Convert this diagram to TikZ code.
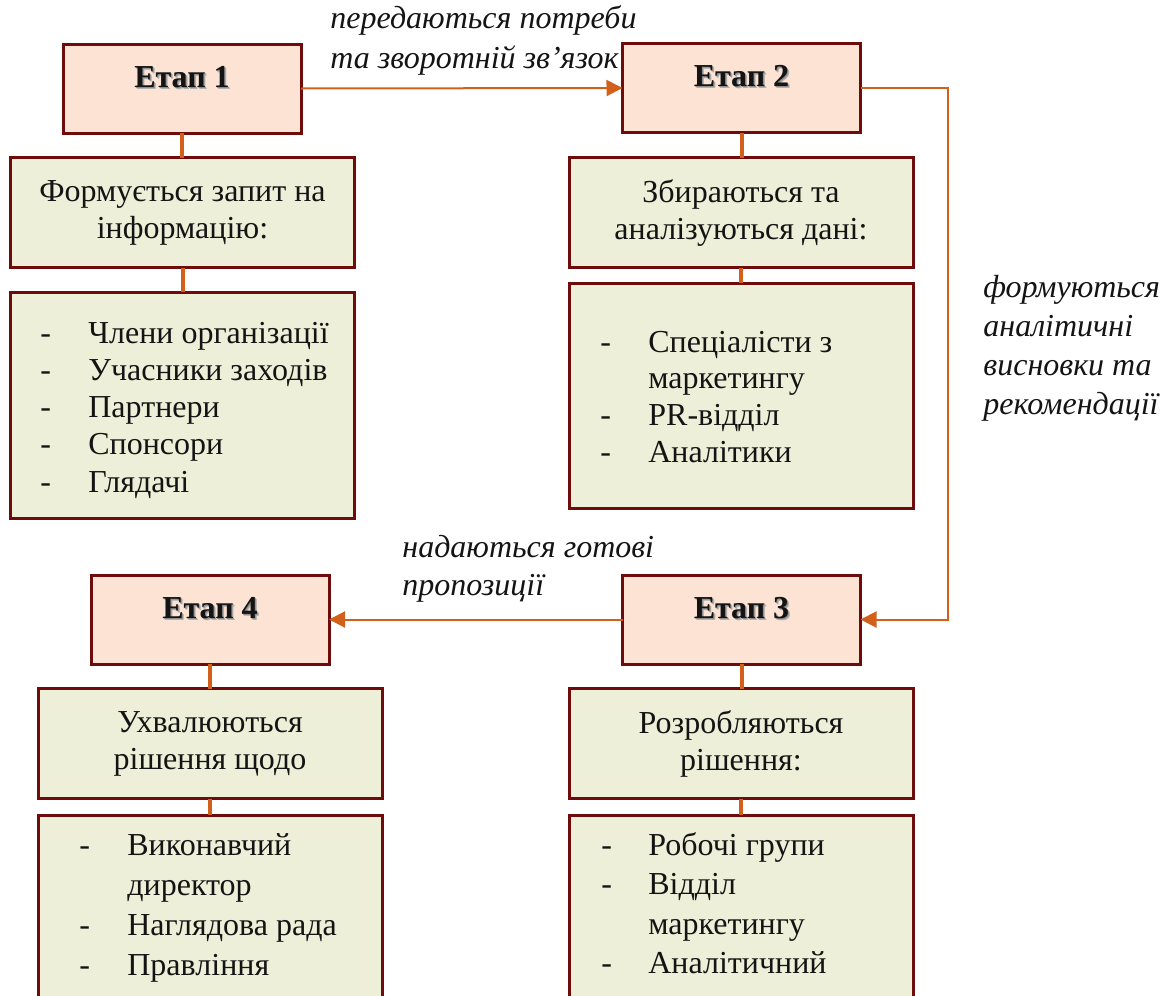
\documentclass[tikz,border=0pt]{standalone}
\usepackage{fontspec}
\setmainfont{Liberation Serif}
\usetikzlibrary{arrows.meta}
\definecolor{brd}{HTML}{6E0C0C}
\definecolor{pinkf}{HTML}{FDE3D4}
\definecolor{greenf}{HTML}{EEEFD8}
\definecolor{orng}{HTML}{D2601A}
\definecolor{txt}{HTML}{141414}
\newcommand\shtxt[1]{\makebox[0pt][l]{\hspace{1pt}\raisebox{-1pt}{\color{black!30}#1}}\makebox[0pt][l]{\hspace{0.5pt}\raisebox{-0.5pt}{\color{black!45}#1}}#1}
\tikzset{
  etap/.style={draw=brd, fill=pinkf, line width=1.5pt, minimum width=119pt, minimum height=44.5pt,
     inner sep=0pt, outer sep=0pt, text height=11pt, text depth=12.5pt,
     font=\fontsize{16}{19}\selectfont\bfseries, text=txt},
  midbox/.style={draw=brd, fill=greenf, line width=1.5pt, minimum width=172pt, minimum height=55pt,
     inner sep=0pt, outer sep=0pt, align=center, font=\fontsize{16}{18.5}\selectfont, text=txt},
  listbox/.style={draw=brd, fill=greenf, line width=1.5pt, minimum width=172pt,
     inner sep=0pt, outer sep=0pt},
  listtext/.style={anchor=base west, inner sep=0pt, text=txt},
  lbl/.style={anchor=base west, inner sep=0pt, text=txt},
  conn/.style={draw=orng, line width=1pt, -{Triangle[length=8pt,width=8pt]}},
  stub/.style={draw=orng, line width=2pt}
}
\begin{document}
\begin{tikzpicture}[x=0.5pt, y=-0.5pt]
\clip (0,0) rectangle (1169,996);
\fill[white] (0,0) rectangle (1169,996);

% Stage boxes
\node[etap] (e1) at (182,88.5) {\shtxt{Етап 1}};
\node[etap] (e2) at (741.5,88) {\shtxt{Етап 2}};
\node[etap] (e3) at (741.5,619.5) {\shtxt{Етап 3}};
\node[etap] (e4) at (210,619.5) {\shtxt{Етап 4}};

% Middle boxes
\node[midbox] (m1) at (182.5,212.5) {Формується запит на\\інформацію:};
\node[midbox] (m2) at (741,212.5) {Збираються та\\аналізуються дані:};
\node[midbox] (m3) at (741,743.5) {Розробляються\\рішення:};
\node[midbox] (m4) at (210,743.5) {Ухвалюються\\рішення щодо};

% List boxes
\node[listbox, minimum height=113pt] (l1) at (182,405) {};
\node[listbox, minimum height=112.5pt] (l2) at (741,395.5) {};
\node[listbox, minimum height=142.5pt] (l3) at (741,957.5) {};
\node[listbox, minimum height=142.5pt] (l4) at (210,957.5) {};

\node[listtext, font=\fontsize{16}{18.65}\selectfont] (t1) at (40,343) {%
\begin{tabular}[t]{@{}p{24pt}@{}l@{}}
-&Члени організації\\
-&Учасники заходів\\
-&Партнери\\
-&Спонсори\\
-&Глядачі
\end{tabular}};
\node[listtext, font=\fontsize{16}{18.35}\selectfont] (t2) at (600,352) {%
\begin{tabular}[t]{@{}p{24pt}@{}l@{}}
-&Спеціалісти з\\
&маркетингу\\
-&PR-відділ\\
-&Аналітики
\end{tabular}};
\node[listtext, font=\fontsize{16}{19.75}\selectfont] (t3) at (601,855) {%
\begin{tabular}[t]{@{}p{23.5pt}@{}l@{}}
-&Робочі групи\\
-&Відділ\\
&маркетингу\\
-&Аналітичний
\end{tabular}};
\node[listtext, font=\fontsize{16}{20}\selectfont] (t4) at (79,855) {%
\begin{tabular}[t]{@{}p{24pt}@{}l@{}}
-&Виконавчий\\
&директор\\
-&Наглядова рада\\
-&Правління
\end{tabular}};

% Stubs
\draw[stub] (e1.south) -- (e1.south |- m1.north);
\draw[stub] (m1.south) -- (m1.south |- l1.north);
\draw[stub] (e2.south) -- (e2.south |- m2.north);
\draw[stub] (m2.south) -- (m2.south |- l2.north);
\draw[stub] (e3.south) -- (e3.south |- m3.north);
\draw[stub] (m3.south) -- (m3.south |- l3.north);
\draw[stub] (e4.south) -- (e4.south |- m4.north);
\draw[stub] (m4.south) -- (m4.south |- l4.north);

% Connectors
\coordinate (r1) at (948,88);
\draw[conn] (e1.east) -- (e2.west);
\draw[conn] (e2.east) -- (r1) |- (e3.east);
\draw[conn] (e3.west) -- (e4.east);

% Labels
\node[lbl, font=\fontsize{16}{20}\selectfont\itshape] (a1) at (330,28) {%
\begin{tabular}[t]{@{}l@{}}передаються потреби\\та зворотній зв’язок\end{tabular}};
\node[lbl, font=\fontsize{16}{19.5}\selectfont\itshape] (a2) at (983,297) {%
\begin{tabular}[t]{@{}l@{}}формуються\\аналітичні\\висновки та\\рекомендації\end{tabular}};
\node[lbl, font=\fontsize{16}{19}\selectfont\itshape] (a3) at (402,557) {%
\begin{tabular}[t]{@{}l@{}}надаються готові\\пропозиції\end{tabular}};
\end{tikzpicture}
\end{document}
